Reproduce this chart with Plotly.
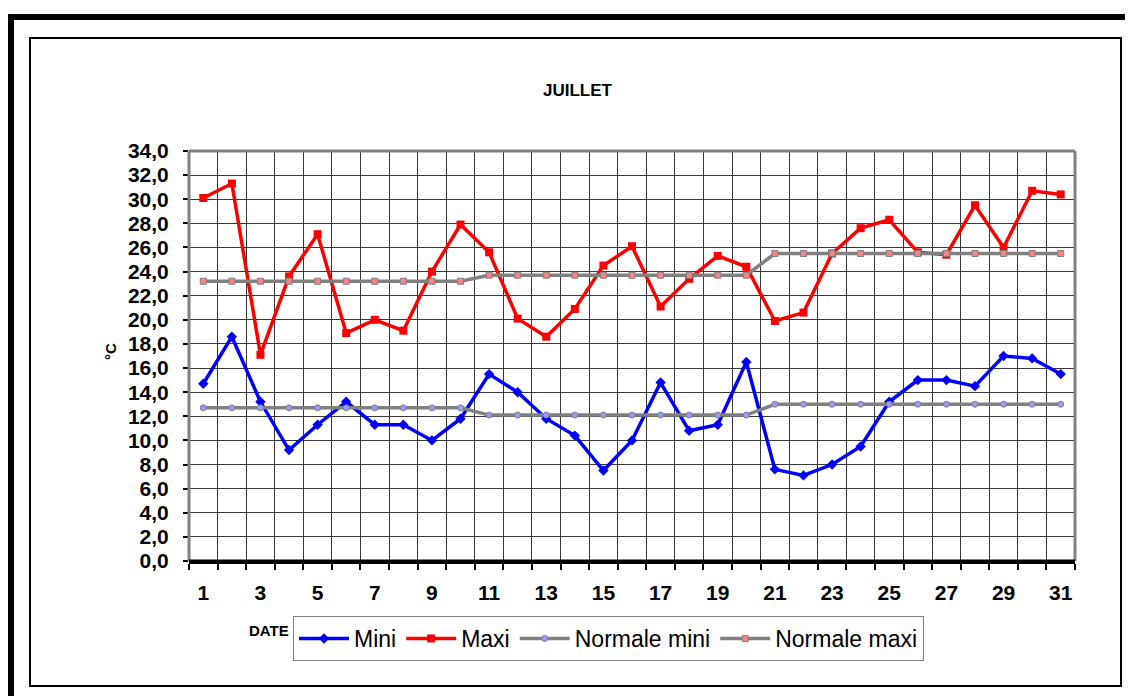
import plotly.graph_objects as go

days = list(range(1, 32))
mini = [14.7, 18.6, 13.2, 9.2, 11.3, 13.2, 11.3, 11.3, 10.0, 11.8,
        15.5, 14.0, 11.8, 10.4, 7.5, 10.0, 14.8, 10.8, 11.3, 16.5,
        7.6, 7.1, 8.0, 9.5, 13.2, 15.0, 15.0, 14.5, 17.0, 16.8, 15.5]
maxi = [30.1, 31.3, 17.1, 23.6, 27.1, 18.9, 20.0, 19.1, 24.0, 27.9,
        25.6, 20.1, 18.6, 20.9, 24.5, 26.1, 21.1, 23.4, 25.3, 24.4,
        19.9, 20.6, 25.5, 27.6, 28.3, 25.6, 25.4, 29.5, 26.0, 30.7, 30.4]
norm_mini = [12.7] * 10 + [12.1] * 10 + [13.0] * 11
norm_maxi = [23.2] * 10 + [23.7] * 10 + [25.5] * 11
x_labels = [str(d) for d in range(1, 32, 2)]
y_ticks = list(range(0, 35, 2))
y_labels = [f"{v:.1f}".replace(".", ",") for v in y_ticks]

# page body has an 8px margin: figure drawn from (8, 8)
OFF = 8
W, H = 1133 - OFF, 696 - OFF
L, R, T, B = 189, 1075, 151, 561  # plot area in screen pixels


def px(x):
    return (x - L) / (R - L)


def py(y):
    return (B - y) / (B - T)


fig = go.Figure()
fig.add_trace(go.Scatter(x=days, y=mini, name="Mini", mode="lines+markers",
                         line=dict(color="#0000ff", width=3.5),
                         marker=dict(symbol="diamond", size=8, color="#0000ff")))
fig.add_trace(go.Scatter(x=days, y=maxi, name="Maxi", mode="lines+markers",
                         line=dict(color="#ff0000", width=3.5),
                         marker=dict(symbol="square", size=8, color="#ff0000")))
fig.add_trace(go.Scatter(x=days, y=norm_mini, name="Normale mini", mode="lines+markers",
                         line=dict(color="#808080", width=3.5),
                         marker=dict(symbol="circle", size=6, color="#9999ff",
                                     line=dict(color="#808080", width=1))))
fig.add_trace(go.Scatter(x=days, y=norm_maxi, name="Normale maxi", mode="lines+markers",
                         line=dict(color="#808080", width=3.5),
                         marker=dict(symbol="square", size=6, color="#ff8080",
                                     line=dict(color="#808080", width=1))))

tick_font = dict(family="Liberation Sans, Arial, sans-serif", size=21, color="black", weight="bold")
narrow = "Liberation Sans Narrow, Arial Narrow, Liberation Sans, sans-serif"

fig.update_layout(
    width=W, height=H,
    margin=dict(l=L - OFF, r=W + OFF - R, t=T - OFF, b=H + OFF - B, pad=0),
    paper_bgcolor="white", plot_bgcolor="white",
    showlegend=True,
    legend=dict(orientation="h", x=px(293), y=py(616), xanchor="left", yanchor="top",
                bgcolor="white", bordercolor="#808080", borderwidth=1,
                font=dict(family=narrow, size=23, color="black"),
                itemwidth=50, tracegroupgap=0),
    xaxis=dict(range=[0.5, 31.5], tickmode="array", tickvals=list(range(1, 32, 2)),
               ticktext=x_labels, ticks="", showgrid=False, zeroline=False,
               tickfont=tick_font, ticklabelstandoff=11,
               showline=True, linecolor="black", linewidth=3, mirror=False,
               minor=dict(tickmode="linear", tick0=0.5, dtick=1, showgrid=True,
                          gridcolor="#383838", gridwidth=1, ticks="outside",
                          ticklen=6, tickwidth=2, tickcolor="black")),
    yaxis=dict(range=[0, 34], tickmode="array", tickvals=y_ticks, ticktext=y_labels,
               ticks="outside", ticklen=5, tickwidth=2, tickcolor="black",
               showgrid=True, gridcolor="#383838", gridwidth=1, zeroline=False,
               tickfont=tick_font, ticklabelstandoff=10, showline=False),
    shapes=[
        dict(type="line", xref="paper", yref="paper", x0=0, x1=1, y0=1, y1=1,
             line=dict(color="#808080", width=3)),
        dict(type="line", xref="paper", yref="paper", x0=0, x1=0, y0=0, y1=1,
             line=dict(color="#808080", width=3)),
        dict(type="line", xref="paper", yref="paper", x0=1, x1=1, y0=0, y1=1,
             line=dict(color="#808080", width=3)),
        dict(type="line", xref="paper", yref="paper", x0=0, x1=1, y0=0, y1=0,
             line=dict(color="black", width=3)),
        dict(type="rect", xref="paper", yref="paper", x0=px(30), x1=px(1121),
             y0=py(686), y1=py(38), line=dict(color="black", width=2), layer="below"),
        dict(type="line", xref="paper", yref="paper", x0=px(8), x1=px(1140),
             y0=py(17), y1=py(17), line=dict(color="black", width=6)),
        dict(type="line", xref="paper", yref="paper", x0=px(11), x1=px(11),
             y0=py(14), y1=py(700), line=dict(color="black", width=6)),
    ],
    annotations=[
        dict(text="JUILLET", xref="paper", yref="paper", x=px(578), y=py(90),
             xanchor="center", yanchor="middle", showarrow=False,
             font=dict(family=narrow, size=17, color="black", weight="bold")),
        dict(text="°C", xref="paper", yref="paper", x=px(110), y=py(352), textangle=-90,
             xanchor="center", yanchor="middle", showarrow=False,
             font=dict(family="Liberation Sans, Arial", size=15, color="black", weight="bold")),
        dict(text="DATE", xref="paper", yref="paper", x=px(269), y=py(630),
             xanchor="center", yanchor="middle", showarrow=False,
             font=dict(family=narrow, size=15, color="black", weight="bold")),
    ],
)

fig.write_html("out.html")
